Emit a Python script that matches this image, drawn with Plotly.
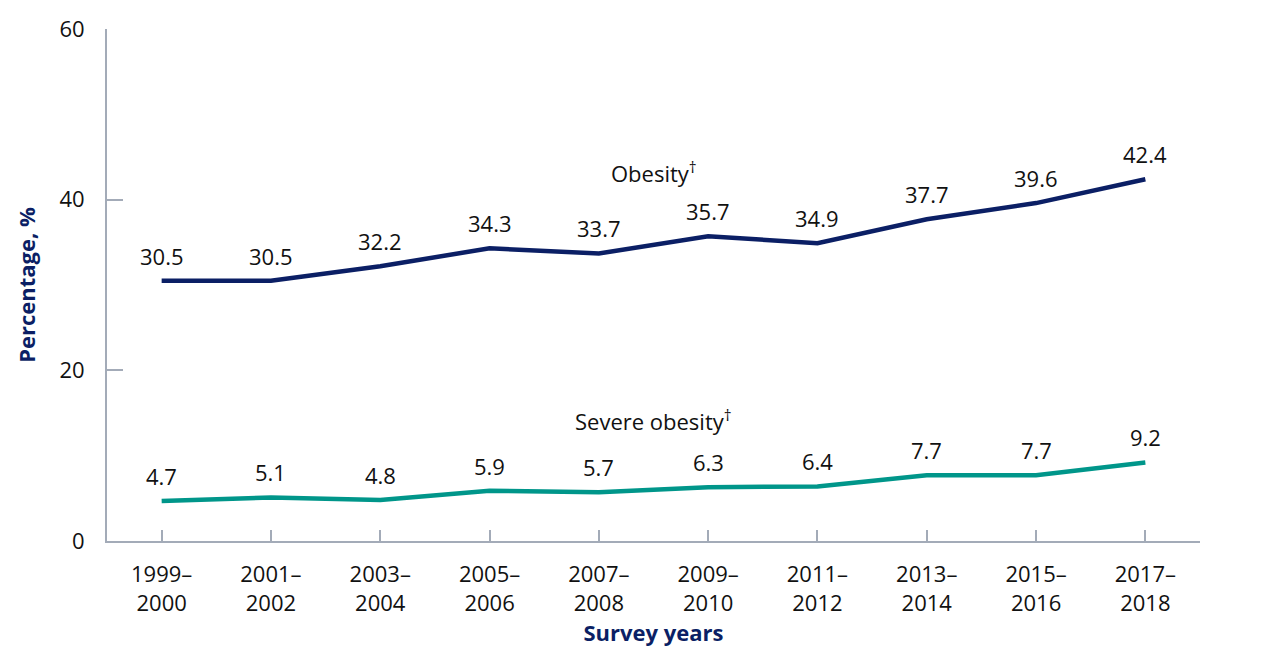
import plotly.graph_objects as go

# -- Datos ------------------------------------------------------------------
survey_years = ["1999–<br>2000", "2001–<br>2002", "2003–<br>2004", "2005–<br>2006",
                "2007–<br>2008", "2009–<br>2010", "2011–<br>2012", "2013–<br>2014",
                "2015–<br>2016", "2017–<br>2018"]
obesity = [30.5, 30.5, 32.2, 34.3, 33.7, 35.7, 34.9, 37.7, 39.6, 42.4]
severe_obesity = [4.7, 5.1, 4.8, 5.9, 5.7, 6.3, 6.4, 7.7, 7.7, 9.2]
y_ticks = [0, 20, 40, 60]

NAVY = "#0b1f65"
TEAL = "#00968a"
AXIS = "#a3abb8"
FONT = "Open Sans"
FS = 22

fig = go.Figure()
fig.add_trace(go.Scatter(x=survey_years, y=obesity, mode="lines",
                         line=dict(color=NAVY, width=4.5), name="Obesity"))
fig.add_trace(go.Scatter(x=survey_years, y=severe_obesity, mode="lines",
                         line=dict(color=TEAL, width=4.5), name="Severe obesity"))

# etiquetas de valores
for ys in [obesity, severe_obesity]:
    for xv, yv in zip(survey_years, ys):
        fig.add_annotation(x=xv, y=yv, text=f"{yv:.1f}", showarrow=False,
                           yshift=25, font=dict(size=FS, color="#111111"))

fig.add_annotation(x=4.5, y=obesity[5], text="Obesity<sup>†</sup>", showarrow=False,
                   yshift=64, font=dict(size=FS, color="#111111"))
fig.add_annotation(x=4.5, y=severe_obesity[5], text="Severe obesity<sup>†</sup>",
                   showarrow=False, yshift=67, font=dict(size=FS, color="#111111"))

# la pagina html tiene 8px de margen en el body
fig.update_layout(
    width=1272, height=658,
    margin=dict(l=99, r=80, t=21, b=125),
    plot_bgcolor="white", paper_bgcolor="white",
    showlegend=False,
    font=dict(family=FONT, size=FS, color="#111111"),
    xaxis=dict(
        range=[-0.5, 9.5], showgrid=False, zeroline=False, automargin=False,
        showline=True, linecolor=AXIS, linewidth=2,
        ticks="inside", ticklen=11, tickcolor=AXIS, tickwidth=1.5,
        ticklabelstandoff=13,
        title=dict(text="<b>Survey years</b>", font=dict(size=FS, color=NAVY), standoff=10),
    ),
    yaxis=dict(
        range=[0, 60], tickvals=y_ticks, showgrid=False, zeroline=False, automargin=False,
        showline=True, linecolor=AXIS, linewidth=2,
        ticks="inside", ticklen=16, tickcolor=AXIS, tickwidth=1.5,
        ticklabelstandoff=16,
        title=dict(text="<b>Percentage, %</b>", font=dict(size=FS, color=NAVY), standoff=18),
    ),
)

fig.write_html("out.html")
